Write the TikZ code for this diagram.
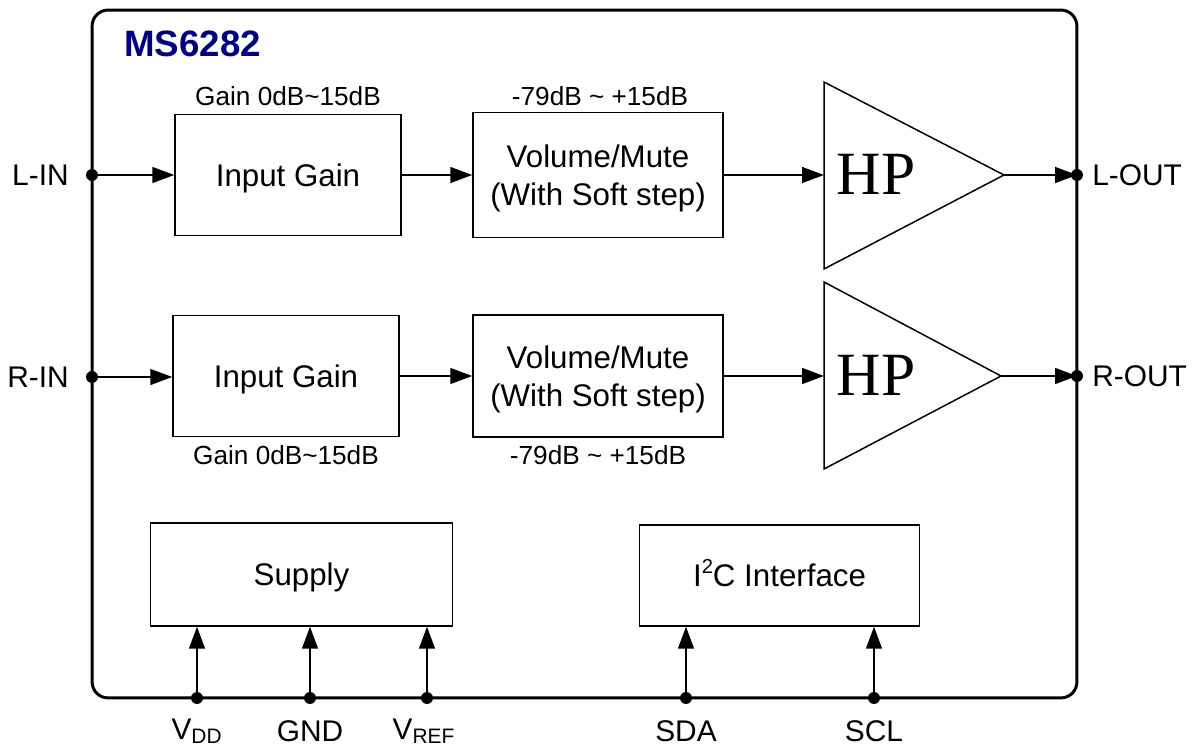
\documentclass[tikz,border=0pt]{standalone}
\usepackage{fontspec}
\setmainfont{Liberation Sans}
\newfontfamily\hpfont{Liberation Serif}
\usetikzlibrary{arrows.meta}
\definecolor{chipblue}{RGB}{0,0,128}
\tikzset{
  blk/.style={draw, line width=0.85pt, inner sep=0pt, font=\fontsize{17.8}{22}\selectfont, align=center, text depth=0pt},
  arr/.style={line width=1.1pt, -{Triangle[length=12.5pt,width=9pt]}},
  amp/.style={line width=0.85pt, line join=miter},
  small/.style={font=\fontsize{14.9}{17}\selectfont, inner sep=0pt},
  pin/.style={font=\fontsize{17}{20}\selectfont, inner sep=0pt},
  hp/.style={font=\hpfont\fontsize{35}{40}\selectfont, inner sep=0pt},
  dot/.style={fill=black},
}
\begin{document}
\begin{tikzpicture}[x=0.02cm,y=-0.02cm]
\useasboundingbox (0,0) rectangle (1200,749);
% chip outline
\node[draw, line width=1.7pt, rounded corners=0.32cm, minimum width=19.7cm, minimum height=13.76cm, inner sep=0pt] (chip) at (584.5,354) {};
\node[font=\bfseries\fontsize{20.9}{24}\selectfont, text=chipblue, anchor=west, inner sep=0pt] (title) at (124,44) {MS6282};

% pins
\coordinate (pLin) at (92,175);
\coordinate (pRin) at (92,377);
\coordinate (pLout) at (1077,175);
\coordinate (pRout) at (1077,376);
\coordinate (pVdd) at (197,698);
\coordinate (pGnd) at (310,698);
\coordinate (pVref) at (427,698);
\coordinate (pSda) at (686,698);
\coordinate (pScl) at (874,698);

% blocks
\node[blk, minimum width=4.52cm, minimum height=2.42cm] (ig1) at (288,175) {Input Gain};
\node[blk, minimum width=5cm, minimum height=2.5cm] (vol1) at (598,175) {Volume/Mute\\(With Soft step)};
\node[blk, minimum width=4.52cm, minimum height=2.42cm] (ig2) at (286,376) {Input Gain};
\node[blk, minimum width=5cm, minimum height=2.44cm] (vol2) at (598,376) {Volume/Mute\\(With Soft step)};
\node[blk, minimum width=6.04cm, minimum height=2.06cm] (sup) at (301.5,574.5) {Supply};
\node[blk, text height=13pt, minimum width=5.6cm, minimum height=2.02cm] (i2c) at (779.5,575.5) {I\raisebox{0.42em}{\fontsize{11.5}{12}\selectfont 2}C Interface};

% range labels
\node[small] (g1) at (288,96) {Gain 0dB\textasciitilde15dB};
\node[small] (r1) at (600,96) {-79dB \textasciitilde\ +15dB};
\node[small] (g2) at (286,455) {Gain 0dB\textasciitilde15dB};
\node[small] (r2) at (598,455) {-79dB \textasciitilde\ +15dB};

% amplifiers
\coordinate (a1in) at (824,175);
\coordinate (a1out) at (1004,175);
\coordinate (a2in) at (824,376);
\coordinate (a2out) at (1001,376);
\draw[amp] (824,82) -- (a1out) -- (824,269) -- cycle;
\draw[amp] (824,282) -- (a2out) -- (824,469) -- cycle;
\node[hp] (hp1) at (876,174) {HP};
\node[hp] (hp2) at (876,375) {HP};

% signal connectors
\draw[arr] (pLin) -- (ig1.west);
\draw[arr] (ig1.east) -- (vol1.west);
\draw[arr] (vol1.east) -- (a1in);
\draw[arr] (a1out) -- (pLout);
\draw[arr] (pRin) -- (ig2.west |- pRin);
\draw[arr] (ig2.east) -- (vol2.west);
\draw[arr] (vol2.east) -- (a2in);
\draw[arr] (a2out) -- (pRout);

\draw[arr] (pVdd) -- (pVdd |- sup.south);
\draw[arr] (pGnd) -- (pGnd |- sup.south);
\draw[arr] (pVref) -- (pVref |- sup.south);
\draw[arr] (pSda) -- (pSda |- i2c.south);
\draw[arr] (pScl) -- (pScl |- i2c.south);

% dots
\foreach \p in {pLin,pRin,pLout,pRout,pVdd,pGnd,pVref,pSda,pScl}
  \fill[dot] (\p) circle (3.4pt);

% pin labels
\node[pin, anchor=east] (lLin) at (69,175) {L-IN};
\node[pin, anchor=east] (lRin) at (69,377) {R-IN};
\node[pin, anchor=west] (lLout) at (1092,175) {L-OUT};
\node[pin, anchor=west] (lRout) at (1092,376) {R-OUT};
\node[pin] (lVdd) at (197,731) {V\textsubscript{DD}};
\node[pin] (lGnd) at (310,731) {GND};
\node[pin] (lVref) at (424,731) {V\textsubscript{REF}};
\node[pin] (lSda) at (686,731) {SDA};
\node[pin] (lScl) at (874,731) {SCL};
\end{tikzpicture}
\end{document}
